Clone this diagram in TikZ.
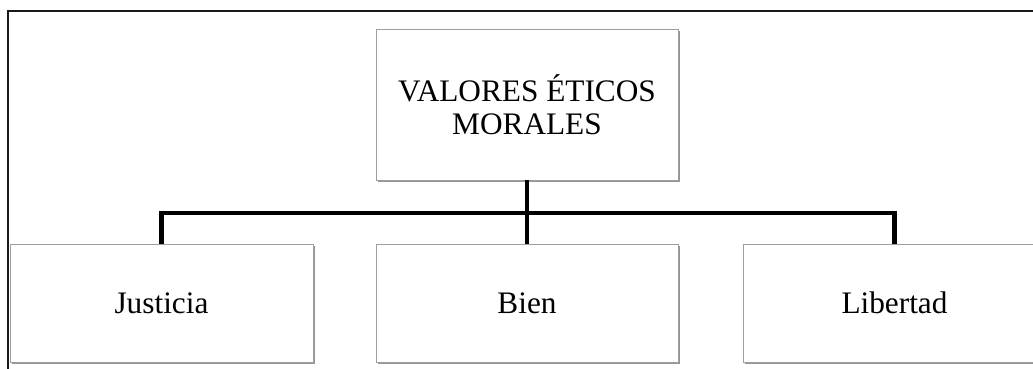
\documentclass[tikz,border=0pt]{standalone}
\usepackage{fontspec}
\setmainfont{Liberation Serif}
\usetikzlibrary{shadows}
\begin{document}
\begin{tikzpicture}[x=1pt,y=1pt,
  box/.style={draw=black!38, line width=0.9pt, fill=white, align=center,
    font=\fontsize{31.3}{33}\selectfont, inner sep=0pt,
    drop shadow={shadow xshift=1.5pt, shadow yshift=-2.5pt, fill=black!55, opacity=0.75}},
  conn/.style={line width=4.2pt, black}]
\useasboundingbox (0,0) rectangle (1033,369);
\clip (0,0) rectangle (1033,369);
\fill[white] (0,0) rectangle (1033,369);
% frame
\draw[line width=1.6pt, black!90] (8,-5) -- (8,358) -- (1040,358);
% boxes
\node[box, minimum width=302pt, minimum height=151pt] (top) at (527,264.5) {VALORES ÉTICOS\\MORALES};
\node[box, minimum width=303pt, minimum height=118pt] (just) at (161.5,66) {Justicia};
\node[box, minimum width=302pt, minimum height=118pt] (bien) at (527,66) {Bien};
\node[box, minimum width=303pt, minimum height=118pt] (lib) at (894.5,66) {Libertad};
% connectors
\coordinate (bar) at (527,156);
\draw[conn] (top.south) -- (bien.north);
\draw[conn] (just.north) |- (bar) -| (lib.north);
\end{tikzpicture}
\end{document}
